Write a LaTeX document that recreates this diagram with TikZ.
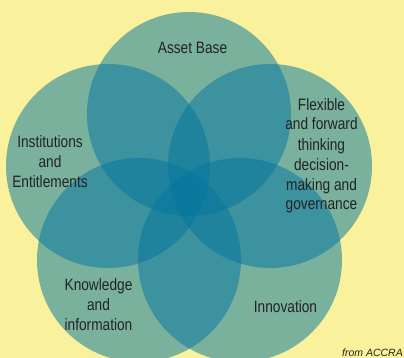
\documentclass[tikz,border=0pt]{standalone}
\usepackage{fontspec}
\setmainfont{Liberation Sans}[FakeStretch=0.83]
\newfontfamily\srcfont{Liberation Sans}
\definecolor{bgyellow}{RGB}{249,241,156}
\definecolor{petal}{RGB}{5,119,159}
\definecolor{txt}{RGB}{35,35,35}
\begin{document}
\begin{tikzpicture}[x=1pt,y=-1pt,
  petalc/.style={circle,minimum size=204pt,inner sep=0pt,fill=petal,fill opacity=0.52,draw=none},
  lbl/.style={align=center,text=txt,font=\fontsize{16.5}{20}\selectfont,inner sep=0pt}]
\fill[bgyellow] (0,0) rectangle (404,358);
\useasboundingbox (0,0) rectangle (404,358);
\node[petalc] (asset) at (189,114) {};
\node[petalc] (inst) at (108,166) {};
\node[petalc] (flex) at (270,166) {};
\node[petalc] (know) at (139,260) {};
\node[petalc] (innov) at (240,260) {};
\node[lbl,anchor=base] (tasset) at (192.5,54) {Asset Base};
\node[lbl,anchor=base] (tflex) at (321.5,210) {Flexible\\and forward\\thinking\\decision-\\making and\\governance};
\node[lbl,anchor=base] (tinst) at (50,188) {Institutions\\and\\Entitlements};
\node[lbl,anchor=base] (tknow) at (98.5,330) {Knowledge\\and\\information};
\node[lbl,anchor=base] (tinnov) at (285.5,312.5) {Innovation};
\node[anchor=base east,inner sep=0pt,text=txt,font=\srcfont\itshape\fontsize{10.5}{12}\selectfont] (src) at (403,356) {from ACCRA};
\end{tikzpicture}
\end{document}
